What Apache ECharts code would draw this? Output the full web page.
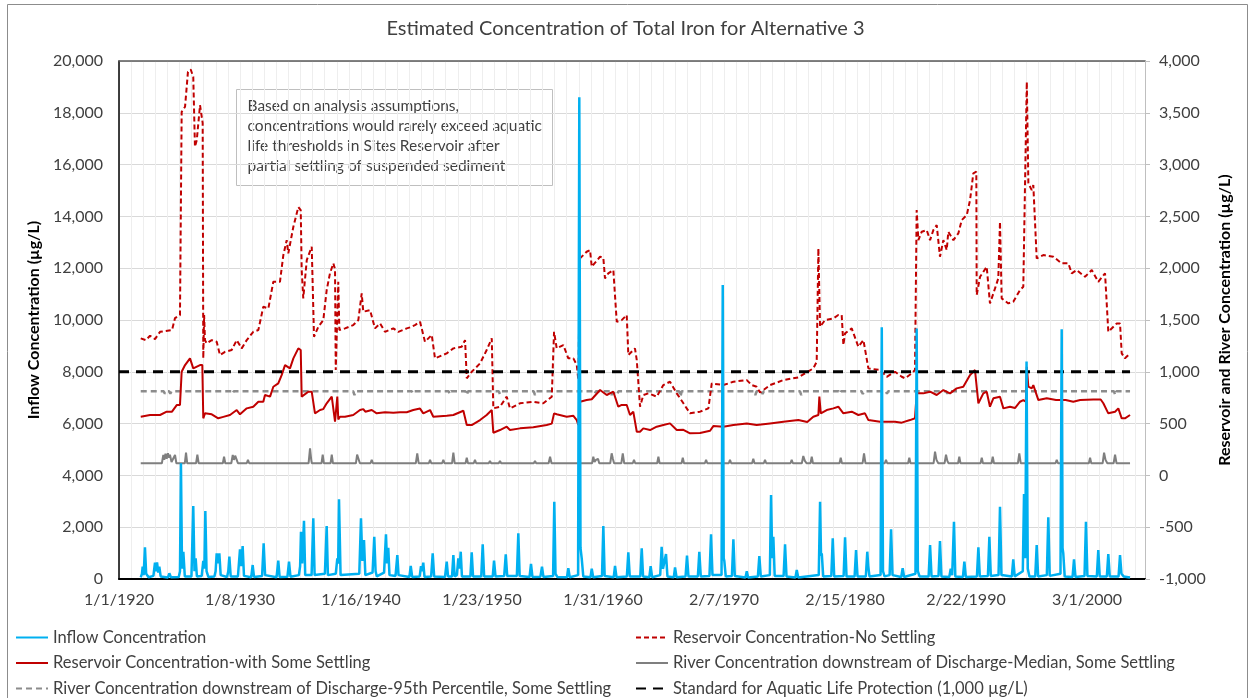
<!DOCTYPE html>
<html>
<head>
<meta charset="utf-8">
<script src="https://cdn.jsdelivr.net/npm/echarts@6/dist/echarts.min.js"></script>
<style>
html,body{margin:0;padding:0;background:#fff;}
#chart{width:1251px;height:698px;}
</style>
</head>
<body>
<div id="chart"></div>
<script>
// ---------- DATA (x = decimal year, y = concentration µg/L) ----------
const TITLE = 'Estimated Concentration of Total Iron for Alternative 3';
const X_TICK_LABELS = ['1/1/1920','1/8/1930','1/16/1940','1/23/1950','1/31/1960','2/7/1970','2/15/1980','2/22/1990','3/1/2000'];
const SERIES_NAMES = [
  'Inflow Concentration',
  'Reservoir Concentration-No Settling',
  'Reservoir Concentration-with Some Settling',
  'River Concentration downstream of Discharge-Median, Some Settling',
  'River Concentration downstream of Discharge-95th Percentile, Some Settling',
  'Standard for Aquatic Life Protection (1,000 µg/L)'
];
const NOTE_LINES = [
  'Based on analysis assumptions,',
  'concentrations would rarely exceed aquatic',
  'life thresholds in Sites Reservoir after',
  'partial settling of suspended sediment'
];

const inflow = [
[1921.80,60],[1921.90,200],[1921.96,475],[1922.04,150],[1922.15,1223],[1922.25,200],[1922.45,70],
[1922.85,120],[1922.98,629],[1923.08,300],[1923.15,640],[1923.25,250],[1923.34,475],[1923.45,100],
[1924.05,60],[1924.17,220],[1924.30,70],
[1924.95,80],[1925.05,300],[1925.13,4466],[1925.22,400],[1925.33,1054],[1925.45,100],
[1926.00,100],[1926.15,2818],[1926.25,300],[1926.35,799],[1926.45,100],
[1926.85,120],[1926.98,700],[1927.07,400],[1927.15,2625],[1927.25,300],[1927.40,80],
[1927.90,100],[1928.00,300],[1928.09,992],[1928.20,600],[1928.31,992],[1928.42,150],
[1928.95,80],[1929.05,300],[1929.14,861],[1929.25,100],
[1929.85,100],[1930.02,1146],[1930.12,500],[1930.24,1274],[1930.35,120],
[1930.95,70],[1931.07,540],[1931.18,80],
[1931.85,120],[1931.98,1378],[1932.10,150],
[1933.05,70],[1933.19,706],[1933.30,80],
[1933.95,90],[1934.08,668],[1934.20,90],
[1934.90,150],[1935.00,500],[1935.07,1826],[1935.17,600],[1935.32,2250],[1935.42,150],
[1935.95,150],[1936.09,2343],[1936.20,150],
[1937.05,200],[1937.20,2046],[1937.30,150],
[1937.95,200],[1938.08,800],[1938.15,600],[1938.22,3076],[1938.35,150],
[1939.90,200],[1940.04,2343],[1940.15,700],[1940.29,1505],[1940.40,150],
[1941.00,250],[1941.14,1633],[1941.25,300],[1941.35,100],
[1941.95,250],[1942.11,1725],[1942.20,600],[1942.30,1200],[1942.40,150],
[1942.90,120],[1943.05,926],[1943.15,150],
[1944.05,80],[1944.16,502],[1944.28,80],
[1944.90,100],[1945.01,500],[1945.10,300],[1945.20,629],[1945.30,80],
[1945.85,100],[1945.98,992],[1946.10,100],
[1947.00,80],[1947.14,668],[1947.25,100],[1947.58,100],[1947.69,926],[1947.80,100],
[1947.98,150],[1948.10,799],[1948.20,400],[1948.30,1054],[1948.40,100],
[1949.10,100],[1949.21,1030],[1949.32,100],
[1950.00,100],[1950.12,1339],[1950.24,100],
[1950.95,100],[1951.06,706],[1951.18,100],
[1951.90,120],[1952.03,953],[1952.15,120],
[1952.95,120],[1953.07,1764],[1953.18,120],
[1954.00,80],[1954.12,579],[1954.24,80],
[1954.90,90],[1955.03,475],[1955.15,80],
[1955.95,120],[1956.05,2984],[1956.15,200],[1956.30,80],
[1957.10,70],[1957.21,413],[1957.33,70],
[1958.02,150],[1958.12,18600],[1958.22,1200],[1958.32,799],[1958.45,100],
[1959.05,70],[1959.15,400],[1959.27,70],
[1960.00,120],[1960.11,2046],[1960.22,120],
[1960.97,70],[1961.08,502],[1961.20,70],
[1962.06,100],[1962.18,1030],[1962.30,100],
[1963.17,100],[1963.29,1185],[1963.40,100],
[1963.92,70],[1964.03,500],[1964.15,70],
[1964.82,150],[1964.94,1247],[1965.05,400],[1965.30,965],[1965.42,100],
[1965.95,70],[1966.05,450],[1966.17,70],
[1966.92,100],[1967.04,900],[1967.16,100],
[1967.94,100],[1968.06,1054],[1968.18,100],
[1968.90,120],[1969.03,1725],[1969.15,150],
[1969.90,150],[1970.00,11350],[1970.08,800],[1970.13,700],[1970.25,100],
[1970.76,120],[1970.88,1532],[1971.00,120],
[1971.88,60],[1971.99,300],[1972.10,60],
[1972.91,100],[1973.03,888],[1973.15,100],
[1973.90,150],[1974.00,3242],[1974.10,800],[1974.19,1633],[1974.30,120],
[1975.04,120],[1975.16,1339],[1975.28,100],
[1976.02,60],[1976.13,347],[1976.25,60],
[1977.95,150],[1978.06,2984],[1978.14,900],[1978.20,992],[1978.32,100],
[1978.99,120],[1979.11,1571],[1979.23,100],
[1980.01,120],[1980.13,1610],[1980.25,100],
[1980.92,100],[1981.04,1119],[1981.16,100],
[1981.85,100],[1981.97,1054],[1982.05,500],[1982.15,100],
[1983.07,150],[1983.17,9716],[1983.27,300],[1983.40,100],
[1983.82,150],[1983.94,1918],[1984.06,150],
[1984.78,80],[1984.90,413],[1985.02,80],
[1985.96,200],[1986.06,9676],[1986.16,300],[1986.30,100],
[1987.05,100],[1987.17,1312],[1987.29,100],
[1987.87,120],[1987.99,1467],[1988.11,100],
[1988.76,80],[1988.88,400],[1989.00,150],[1989.15,2212],[1989.26,100],
[1989.89,80],[1990.01,668],[1990.13,80],
[1991.05,100],[1991.17,1223],[1991.29,100],
[1991.96,120],[1992.08,1633],[1992.20,120],
[1992.84,150],[1992.96,2791],[1993.08,150],
[1993.94,100],[1994.06,760],[1994.18,100],
[1994.85,300],[1994.95,3281],[1995.05,800],[1995.16,8400],[1995.26,400],[1995.40,100],
[1995.88,100],[1996.00,1312],[1996.12,100],
[1996.84,150],[1996.96,2381],[1997.08,120],
[1997.97,200],[1998.07,9640],[1998.14,1200],[1998.20,1000],[1998.32,100],
[1998.97,80],[1999.09,760],[1999.21,80],
[1999.96,120],[2000.08,2212],[2000.20,120],
[2000.98,100],[2001.10,1119],[2001.22,100],
[2001.81,100],[2001.93,965],[2002.05,100],
[2002.78,100],[2002.90,926],[2003.02,200],[2003.20,100],[2003.73,60]
];

const resNoSettling = [
[1921.80,1323],[1922.22,1306],[1922.57,1348],[1922.98,1316],[1923.40,1386],[1924.39,1403],[1924.64,1519],[1925.05,1548],[1925.15,1560],
[1925.19,3509],[1925.47,3558],[1925.71,3895],[1925.94,3918],[1926.15,3847],[1926.29,3172],[1926.44,3236],[1926.71,3574],[1926.85,3590],[1926.93,3400],
[1926.98,1130],[1927.05,1548],[1927.12,1306],[1927.26,1274],[1927.68,1306],[1928.09,1290],[1928.36,1162],[1928.78,1193],[1929.33,1210],[1929.75,1306],
[1930.16,1226],[1930.58,1306],[1931.12,1386],[1931.54,1403],[1931.95,1628],[1932.37,1612],[1932.78,1869],[1933.33,1869],[1933.61,2127],[1933.89,2271],
[1934.02,2143],[1934.44,2400],[1934.85,2590],[1935.05,2560],[1935.13,1982],[1935.26,1709],[1935.55,2078],[1935.96,2207],[1936.09,2207],[1936.15,1338],
[1936.51,1435],[1936.92,1499],[1937.20,1789],[1937.47,1950],[1937.75,2047],[1937.89,1990],[1937.95,1017],[1938.16,1869],[1938.25,1403],[1938.72,1419],
[1939.40,1451],[1939.82,1499],[1940.10,1757],[1940.23,1580],[1940.79,1596],[1941.20,1419],[1941.62,1467],[1942.03,1386],[1942.72,1419],[1943.13,1386],
[1943.83,1419],[1944.10,1429],[1944.51,1451],[1944.93,1483],[1945.07,1470],[1945.34,1290],[1945.90,1355],[1946.17,1130],[1947.14,1178],[1947.69,1226],
[1948.38,1242],[1948.66,1306],[1948.80,937],[1949.21,1000],[1949.90,1081],[1950.45,1210],[1950.87,1323],[1951.00,647],[1951.55,663],[1952.11,760],
[1952.38,647],[1953.21,696],[1954.31,711],[1955.14,696],[1955.84,760],[1956.03,1386],[1956.25,1226],[1956.80,1258],[1957.21,1130],[1957.63,1130],
[1957.91,1065],[1958.04,920],[1958.18,2095],[1958.73,2159],[1959.01,2175],[1959.15,2014],[1959.84,2111],[1960.11,2100],[1960.25,1902],[1960.52,1950],
[1960.94,1982],[1961.22,1483],[1961.63,1499],[1962.05,1548],[1962.18,1162],[1962.73,1226],[1962.88,1113],[1963.15,663],[1963.42,776],[1963.84,792],
[1964.53,760],[1965.08,872],[1965.63,904],[1966.19,792],[1966.74,696],[1967.29,599],[1968.12,615],[1968.81,647],[1969.09,888],[1970.05,872],
[1970.88,904],[1971.99,920],[1972.40,872],[1972.81,856],[1973.09,800],[1973.92,872],[1975.02,920],[1976.26,946],[1976.40,952],[1977.50,1033],
[1977.78,1097],[1977.92,2191],[1978.06,1435],[1978.47,1499],[1979.16,1516],[1979.57,1548],[1979.85,1548],[1979.99,1258],[1980.13,1371],[1980.68,1419],
[1981.23,1242],[1981.65,1306],[1982.06,1033],[1983.03,1017],[1983.58,952],[1984.27,1000],[1984.82,952],[1985.10,937],[1985.65,985],[1985.92,1017],
[1986.03,1010],[1986.06,2561],[1986.20,2271],[1986.48,2352],[1986.89,2368],[1987.17,2271],[1987.44,2368],[1987.72,2416],[1987.99,2111],[1988.27,2271],
[1988.55,2175],[1988.68,2352],[1989.10,2271],[1989.51,2336],[1989.79,2464],[1990.21,2513],[1990.48,2657],[1990.75,2915],[1991.00,2931],[1991.03,1741],
[1991.31,1917],[1991.86,2014],[1992.13,1660],[1992.55,1805],[1992.82,1902],[1992.96,2448],[1993.10,1709],[1993.65,1660],[1994.06,1676],[1994.62,1789],
[1994.89,1821],[1995.03,2786],[1995.18,3799],[1995.31,2818],[1995.59,2754],[1995.72,2802],[1995.86,2790],[1996.00,2095],[1996.14,2111],[1996.55,2127],
[1997.38,2111],[1998.07,2047],[1998.62,2047],[1998.90,1950],[1999.31,1982],[2000.00,1917],[2000.56,1982],[2001.10,1869],[2001.66,1950],[2001.93,1386],
[2002.63,1467],[2002.90,1467],[2003.04,1178],[2003.31,1130],[2003.73,1178]
];

const resSomeSettling = [
[1921.80,566],[1922.57,583],[1923.40,583],[1923.95,615],[1924.39,615],[1924.78,679],[1925.05,679],[1925.19,1000],[1925.47,1065],[1925.88,1130],
[1926.15,1033],[1926.29,1020],[1926.71,1065],[1926.90,1065],[1926.98,551],[1927.12,599],[1927.26,590],[1927.68,590],[1928.22,551],[1928.64,565],
[1929.19,583],[1929.75,631],[1930.02,590],[1930.58,647],[1931.12,663],[1931.54,711],[1931.95,711],[1932.09,776],[1932.51,760],[1932.78,856],
[1933.19,888],[1933.47,968],[1933.75,1065],[1934.16,1033],[1934.44,1130],[1934.85,1226],[1935.05,1210],[1935.13,760],[1935.26,750],[1935.68,808],
[1935.96,808],[1936.23,599],[1936.65,631],[1936.92,640],[1937.20,696],[1937.62,760],[1937.89,518],[1938.08,760],[1938.16,540],[1938.30,566],
[1938.72,566],[1939.40,583],[1939.96,631],[1940.23,640],[1940.40,615],[1940.93,631],[1941.34,599],[1942.03,610],[1942.72,605],[1943.27,610],
[1943.83,610],[1944.37,631],[1944.93,645],[1945.20,599],[1945.76,631],[1946.03,566],[1947.14,575],[1947.69,583],[1948.52,624],[1948.66,624],
[1948.80,486],[1949.21,486],[1949.90,534],[1950.45,583],[1950.87,631],[1951.00,412],[1951.55,438],[1952.11,470],[1952.38,438],[1953.21,454],
[1954.31,464],[1955.42,486],[1955.84,500],[1956.03,599],[1956.25,590],[1957.08,566],[1957.63,575],[1957.91,534],[1958.04,486],[1958.18,711],
[1958.73,727],[1959.15,735],[1959.84,824],[1960.39,776],[1960.94,808],[1961.35,663],[1961.63,680],[1962.05,679],[1962.32,583],[1962.59,615],
[1962.88,421],[1963.15,421],[1963.42,454],[1963.98,438],[1964.53,470],[1965.08,486],[1965.63,502],[1966.19,438],[1966.74,440],[1967.29,406],
[1968.12,410],[1968.95,431],[1969.22,476],[1970.05,470],[1970.88,486],[1971.99,502],[1972.81,486],[1973.92,502],[1975.02,518],[1976.26,534],
[1977.00,515],[1977.50,566],[1977.92,583],[1978.00,760],[1978.12,599],[1978.61,631],[1979.16,647],[1979.57,663],[1979.99,599],[1980.68,615],
[1981.23,583],[1981.78,599],[1982.06,534],[1983.03,518],[1984.27,518],[1984.82,509],[1985.51,534],[1985.92,551],[1986.06,792],[1986.61,792],
[1987.17,808],[1987.72,776],[1988.27,824],[1988.82,792],[1989.37,840],[1989.92,856],[1990.48,968],[1990.89,1017],[1991.03,1017],[1991.17,696],
[1991.58,792],[1991.86,808],[1992.13,663],[1992.41,744],[1992.96,760],[1993.24,647],[1993.79,663],[1994.20,650],[1994.62,711],[1994.89,727],
[1995.10,711],[1995.18,1049],[1995.31,856],[1995.59,840],[1995.72,872],[1995.86,856],[1996.14,727],[1996.83,744],[1997.60,727],[1998.40,727],
[1999.03,711],[1999.60,727],[2000.69,733],[2001.30,733],[2001.52,696],[2001.93,599],[2002.49,615],[2002.76,647],[2003.04,551],[2003.31,551],
[2003.73,583]
];

const riverMedian = [
[1921.80,117],[1923.55,117],[1923.67,197],[1923.75,150],[1923.85,210],[1923.95,160],[1924.05,215],[1924.15,170],[1924.22,200],[1924.35,130],
[1924.50,130],[1924.64,197],[1924.75,117],[1925.45,117],[1925.55,219],[1925.65,117],[1926.38,117],[1926.49,200],[1926.60,117],
[1928.60,117],[1928.70,180],[1928.80,117],[1929.30,117],[1929.42,197],[1929.52,150],[1929.62,190],[1929.75,150],[1929.85,117],
[1930.58,117],[1930.68,150],[1930.78,117],[1935.70,117],[1935.82,261],[1935.92,150],[1935.97,117],[1936.77,117],[1936.87,200],[1936.97,117],
[1937.52,117],[1937.62,200],[1937.72,117],[1939.62,117],[1939.72,200],[1939.82,190],[1939.95,117],[1940.83,117],[1940.93,150],[1941.03,117],
[1944.58,117],[1944.70,213],[1944.82,117],[1945.66,117],[1945.76,150],[1945.86,117],[1946.76,117],[1946.86,150],[1946.96,117],
[1947.58,117],[1947.69,219],[1947.80,117],[1948.70,117],[1948.80,170],[1948.90,117],[1949.38,117],[1949.48,150],[1949.58,117],
[1950.62,117],[1950.72,140],[1950.82,117],[1951.45,117],[1951.55,140],[1951.65,117],[1954.35,117],[1954.45,140],[1954.55,117],
[1955.58,117],[1955.70,180],[1955.82,117],[1959.18,117],[1959.28,180],[1959.38,130],[1959.50,150],[1959.67,160],[1959.77,117],
[1960.68,117],[1960.80,213],[1960.90,160],[1961.00,117],[1961.60,117],[1961.72,213],[1961.84,117],[1962.55,117],[1962.65,150],[1962.75,117],
[1964.57,117],[1964.67,180],[1964.77,117],[1966.59,117],[1966.69,170],[1966.79,117],[1968.52,117],[1968.62,150],[1968.72,117],
[1970.50,117],[1970.60,150],[1970.70,117],[1972.43,117],[1972.53,160],[1972.63,117],[1973.40,117],[1973.50,150],[1973.60,117],
[1975.61,117],[1975.71,150],[1975.81,117],[1976.55,117],[1976.67,187],[1976.80,140],[1976.95,117],[1977.27,117],[1977.37,180],[1977.47,117],
[1979.67,117],[1979.77,170],[1979.87,117],[1981.58,117],[1981.70,213],[1981.82,117],[1983.42,117],[1983.52,150],[1983.62,117],
[1985.35,117],[1985.45,170],[1985.55,117],[1987.46,117],[1987.58,229],[1987.70,150],[1987.85,117],[1988.37,117],[1988.49,200],[1988.60,140],
[1988.70,117],[1989.49,117],[1989.59,180],[1989.69,117],[1991.35,117],[1991.45,170],[1991.55,117],[1992.26,117],[1992.36,180],[1992.46,117],
[1994.44,117],[1994.56,213],[1994.68,117],[1997.56,117],[1997.66,150],[1997.76,117],[2000.32,117],[2000.42,170],[2000.52,117],
[2001.46,117],[2001.58,219],[2001.70,150],[2001.85,117],[2002.37,117],[2002.49,200],[2002.61,117],[2003.73,117]
];

const river95th = [
[1921.80,812],[1923.70,812],[1923.80,790],[1923.90,812],[1924.15,812],[1924.25,790],[1924.35,812],[1929.30,812],[1929.40,790],[1929.50,812],
[1939.40,812],[1939.50,776],[1939.60,812],[1944.25,812],[1944.35,792],[1944.45,812],[1947.30,812],[1947.40,785],[1947.50,812],
[1948.70,812],[1948.80,776],[1948.90,812],[1951.45,812],[1951.55,785],[1951.65,812],[1954.35,812],[1954.45,776],[1954.55,812],
[1959.30,812],[1959.40,790],[1959.50,812],[1960.70,812],[1960.80,776],[1960.90,800],[1961.25,776],[1961.35,812],[1966.40,812],[1966.50,760],
[1966.60,812],[1972.60,812],[1972.70,776],[1972.80,812],[1973.20,812],[1973.30,785],[1973.40,812],[1976.40,812],[1976.50,776],[1976.60,812],
[1979.60,812],[1979.70,790],[1979.80,812],[1981.50,812],[1981.60,785],[1981.70,812],[1983.50,812],[1983.60,790],[1983.70,812],
[1988.50,812],[1988.60,790],[1988.70,812],[2002.40,812],[2002.50,776],[2002.60,812],[2003.73,812]
];

const standard = [[1920.00,1000],[2003.73,1000]];

// ---------- helpers ----------
const DAYS_PER_YEAR = 365.25;
const TICK_DAYS = 3660;          // Excel major unit
const MINOR_DAYS = 366;          // Excel minor unit
const X_MAX_DAYS = 31035;
const toDays = arr => arr.map(p => [(p[0] - 1920) * DAYS_PER_YEAR, p[1]]);
const fmtNum = v => Number(v).toLocaleString('en-US');
const FONT = 'Lato, Carlito, Calibri, sans-serif';
const TXT = '#404040';

const chart = echarts.init(document.getElementById('chart'), null, {renderer: 'canvas'});

function lineSeries(name, data, yIdx, color, width, type, z) {
  return {
    name, type: 'line', data: toDays(data), xAxisIndex: 0, yAxisIndex: yIdx,
    symbol: 'none', showSymbol: false, smooth: false, z: z,
    lineStyle: {color, width, type},
    itemStyle: {color},
    emphasis: {disabled: true}
  };
}

const legendCommon = {
  orient: 'vertical', top: 624, height: 90, itemGap: 8.5, itemWidth: 32, itemHeight: 16,
  itemStyle: {opacity: 0},
  textStyle: {fontFamily: FONT, fontSize: 16.5, lineHeight: 16, color: TXT},
  selectedMode: false
};

const option = {
  animation: false,
  backgroundColor: '#fff',
  title: {
    text: TITLE, left: 'center', top: 14,
    textStyle: {fontFamily: FONT, fontSize: 20, fontWeight: 'normal', color: TXT}
  },
  grid: {left: 119, right: 106, top: 61, bottom: 119, containLabel: false},
  xAxis: [
    {
      type: 'value', min: 0, max: X_MAX_DAYS, interval: TICK_DAYS, position: 'bottom',
      axisLine: {show: true, onZero: false, lineStyle: {color: '#000', width: 2}},
      axisTick: {show: false},
      axisLabel: {
        margin: 13, fontFamily: FONT, fontSize: 16, color: TXT, showMaxLabel: false,
        formatter: v => {
          const k = Math.round(v / TICK_DAYS);
          return Math.abs(v - k * TICK_DAYS) < 1 ? (X_TICK_LABELS[k] || '') : '';
        }
      },
      splitLine: {show: true, lineStyle: {color: '#d9d9d9', width: 1}}
    },
    {
      type: 'value', min: 0, max: X_MAX_DAYS, interval: MINOR_DAYS, position: 'top',
      axisLine: {show: true, onZero: false, lineStyle: {color: '#595959', width: 1.5}},
      axisTick: {show: false}, axisLabel: {show: false},
      splitLine: {show: true, lineStyle: {color: '#eeeeee', width: 1}}
    }
  ],
  yAxis: [
    {
      type: 'value', min: 0, max: 20000, interval: 2000, position: 'left',
      name: 'Inflow Concentration (µg/L)', nameLocation: 'middle', nameRotate: 90, nameGap: 73,
      nameTextStyle: {fontFamily: FONT, fontSize: 16, fontWeight: 'bold', color: '#000'},
      axisLine: {show: true, onZero: false, lineStyle: {color: '#000', width: 1.5}},
      axisTick: {show: false},
      axisLabel: {margin: 16, fontFamily: FONT, fontSize: 16, color: TXT, formatter: fmtNum},
      splitLine: {show: true, lineStyle: {color: '#d9d9d9', width: 1}}
    },
    {
      type: 'value', min: -1000, max: 4000, interval: 500, position: 'right',
      name: 'Reservoir and River Concentration (µg/L)', nameLocation: 'middle', nameRotate: 90, nameGap: 68,
      nameTextStyle: {fontFamily: FONT, fontSize: 16, fontWeight: 'bold', color: '#000'},
      axisLine: {show: true, onZero: false, lineStyle: {color: '#bfbfbf', width: 1}},
      axisTick: {show: true, inside: false, length: 5, lineStyle: {color: '#bfbfbf'}},
      axisLabel: {margin: 14, fontFamily: FONT, fontSize: 16, color: TXT, formatter: fmtNum},
      splitLine: {show: false}
    }
  ],
  legend: [
    Object.assign({}, legendCommon, {left: 10, data: [SERIES_NAMES[0], SERIES_NAMES[2], SERIES_NAMES[4]]}),
    Object.assign({}, legendCommon, {left: 630, data: [SERIES_NAMES[1], SERIES_NAMES[3], SERIES_NAMES[5]]})
  ],
  series: [
    lineSeries(SERIES_NAMES[3], riverMedian, 1, '#7f7f7f', 2, 'solid', 2),
    lineSeries(SERIES_NAMES[4], river95th, 1, '#8c8c8c', 2.5, [6, 4], 2),
    lineSeries(SERIES_NAMES[1], resNoSettling, 1, '#c00000', 2, [5, 3], 3),
    lineSeries(SERIES_NAMES[2], resSomeSettling, 1, '#c00000', 2, 'solid', 3),
    lineSeries(SERIES_NAMES[5], standard, 1, '#000000', 3, [10, 7], 4),
    lineSeries(SERIES_NAMES[0], inflow, 0, '#00b0f0', 2.5, 'solid', 5)
  ],
  graphic: [
    {
      type: 'rect', left: 5, top: 2, z: 0, silent: true,
      shape: {x: 0, y: 0, width: 1240, height: 694},
      style: {fill: 'none', stroke: '#8c8c8c', lineWidth: 1}
    },
    {
      type: 'group', left: 236, top: 89, z: 100,
      children: [
        {type: 'rect', shape: {x: 0, y: 0, width: 316, height: 96},
         style: {fill: '#fff', stroke: '#bfbfbf', lineWidth: 1}},
        {type: 'text', left: 11, top: 6,
         style: {text: NOTE_LINES.join('\n'), font: '15.5px ' + FONT, fill: TXT, lineHeight: 20}}
      ]
    }
  ]
};

chart.setOption(option);
</script>
</body>
</html>
